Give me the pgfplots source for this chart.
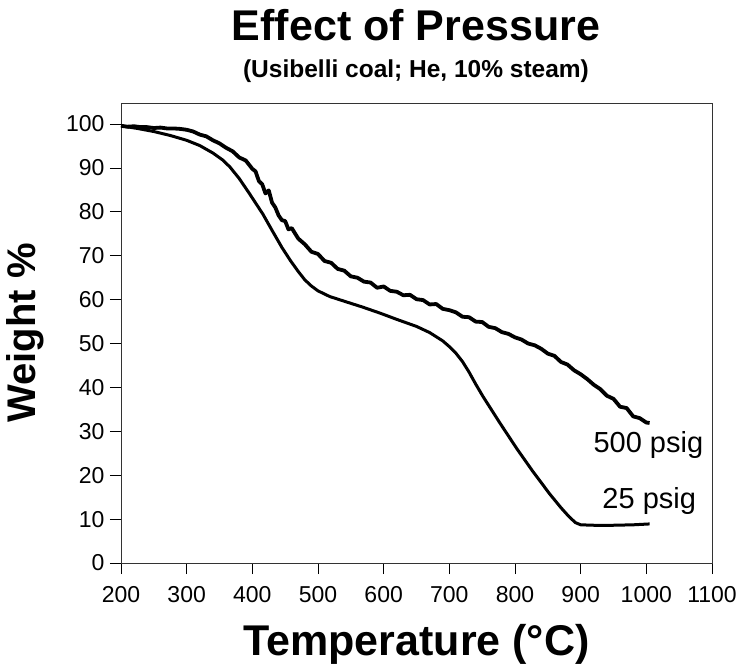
\documentclass[border=0pt]{standalone}
\usepackage{pgfplots}
\pgfplotsset{compat=1.18}
\usepackage{pgfplotstable}
\usepackage{fontspec}
\setmainfont{Liberation Sans}

% 25 psig: smooth TGA trace
\pgfplotstableread{
T W
200 99.6
225 99.0
250 98.3
275 97.4
300 96.3
320 95.1
340 93.4
355 91.8
366 90.2
380 87.6
395 84.3
416 79.5
430 75.8
445 71.9
458 68.9
470 66.4
480 64.5
490 63.1
500 62.0
518 60.7
545 59.4
568 58.3
595 56.9
620 55.5
650 53.9
670 52.5
690 50.6
700 49.3
710 47.8
720 45.9
730 43.5
740 40.8
751 38.0
777 31.9
803 26.0
827 20.9
853 15.7
870 12.6
882 10.6
892 9.2
900 8.7
920 8.6
950 8.6
980 8.7
1005 8.9
}\lowp

% 500 psig: noisy TGA trace
\pgfplotstableread{
T W
200 99.6
210 99.4
220 99.5
230 99.3
240 99.3
250 99.1
260 99.2
270 99.0
280 99.0
290 98.9
300 98.7
310 98.3
320 97.6
330 97.2
340 96.3
350 95.6
360 94.6
370 93.8
380 92.4
390 91.7
400 89.8
405 89.2
410 87.0
415 86.3
420 84.2
425 84.9
430 82.1
435 81.0
440 79.2
445 78.1
450 77.9
455 76.0
460 76.3
470 73.9
480 72.6
490 70.9
500 70.4
510 68.8
520 68.4
530 67.0
540 66.6
550 65.3
560 65.0
570 64.1
580 63.9
590 62.7
600 63.0
610 62.0
620 61.8
630 61.0
640 61.1
650 60.1
660 59.9
670 58.9
680 59.0
690 57.9
700 57.6
710 57.1
720 56.1
730 56.0
740 55.0
750 54.9
760 53.8
770 53.5
780 52.6
790 52.2
800 51.4
810 50.9
820 50.0
830 49.6
840 48.8
850 47.7
860 47.2
870 45.8
880 45.2
890 43.9
900 43.0
910 41.9
920 40.6
930 39.6
940 38.1
950 37.4
960 35.6
970 35.3
980 33.4
990 33.0
1000 32.0
1005 31.9
}\highp

\begin{document}
\begin{tikzpicture}
\useasboundingbox (-121pt,-104pt) rectangle (621pt,563pt);
\begin{axis}[
    at={(0,0)}, anchor=south west,
    scale only axis,
    width=591pt, height=460pt,
    xmin=200, xmax=1100,
    ymin=0, ymax=104.8,
    xtick={200,300,...,1100},
    ytick={0,10,...,100},
    tick align=outside,
    tick pos=left,
    major tick length=11pt,
    axis line style={black!80, line width=0.8pt},
    tick style={black, line width=0.8pt},
    ticklabel style={font=\fontsize{23}{27}\selectfont},
    xticklabel style={yshift=-9pt},
    yticklabel style={xshift=-2pt},
    /pgf/number format/assume math mode=true,
    /pgf/number format/1000 sep={},
    xlabel={Temperature (°C)},
    ylabel={Weight \%},
    xlabel style={font=\bfseries\fontsize{43}{50}\selectfont,
        at={([yshift=-92pt]axis description cs:0.5,0)}, anchor=base},
    ylabel style={font=\bfseries\fontsize{40}{48}\selectfont,
        at={([xshift=-85pt]axis description cs:0,0.5)}, anchor=base, rotate=0},
]
\addplot[black, line width=3pt, line join=round] table[x=T, y=W] {\lowp};
\addplot[black, line width=3.8pt, line join=round] table[x=T, y=W] {\highp};
\node[anchor=base east, font=\fontsize{29}{34}\selectfont] at (axis cs:1092,25.1) {500 psig};
\node[anchor=base east, font=\fontsize{29}{34}\selectfont] at (axis cs:1081,12.5) {25 psig};
\end{axis}
\node[anchor=base, font=\bfseries\fontsize{43}{50}\selectfont] at (295pt,522pt) {Effect of Pressure};
\node[anchor=base, font=\bfseries\fontsize{24.5}{29}\selectfont] at (295pt,485pt) {(Usibelli coal; He, 10\% steam)};
\end{tikzpicture}
\end{document}
